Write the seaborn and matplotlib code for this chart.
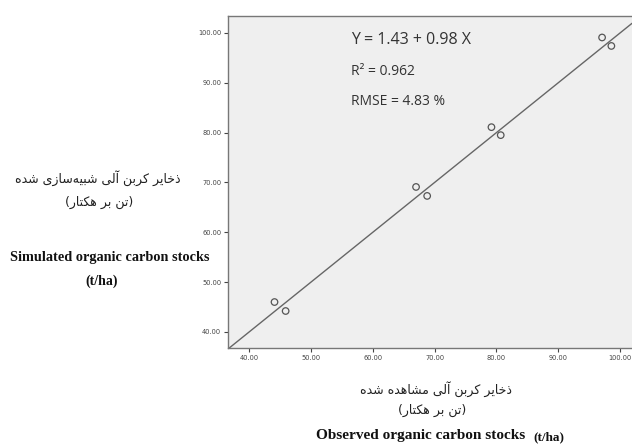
import numpy as np
import pandas as pd
import seaborn as sns
import matplotlib.pyplot as plt

# observed vs simulated organic carbon stocks (t/ha)
observed = [97.1, 98.6, 79.2, 80.7, 67.0, 68.8, 44.1, 45.9]
simulated = [99.1, 97.4, 81.1, 79.5, 69.1, 67.3, 46.0, 44.2]
ticks = [40, 50, 60, 70, 80, 90, 100]

fa_y1 = "ذخایر کربن آلی شبیه\u200cسازی شده"
fa_unit = "(تن بر هکتار)"
fa_x1 = "ذخایر کربن آلی مشاهده شده"

# minimal persian shaping: (isolated, final, initial, medial)
FORMS = {
    "ا": ("\uFE8D", "\uFE8E", None, None),
    "آ": ("\uFE81", "\uFE82", None, None),
    "ب": ("\uFE8F", "\uFE90", "\uFE91", "\uFE92"),
    "ت": ("\uFE95", "\uFE96", "\uFE97", "\uFE98"),
    "خ": ("\uFEA5", "\uFEA6", "\uFEA7", "\uFEA8"),
    "د": ("\uFEA9", "\uFEAA", None, None),
    "ذ": ("\uFEAB", "\uFEAC", None, None),
    "ر": ("\uFEAD", "\uFEAE", None, None),
    "ز": ("\uFEAF", "\uFEB0", None, None),
    "س": ("\uFEB1", "\uFEB2", "\uFEB3", "\uFEB4"),
    "ش": ("\uFEB5", "\uFEB6", "\uFEB7", "\uFEB8"),
    "ل": ("\uFEDD", "\uFEDE", "\uFEDF", "\uFEE0"),
    "م": ("\uFEE1", "\uFEE2", "\uFEE3", "\uFEE4"),
    "ن": ("\uFEE5", "\uFEE6", "\uFEE7", "\uFEE8"),
    "ه": ("\uFEE9", "\uFEEA", "\uFEEB", "\uFEEC"),
    "ی": ("\uFBFC", "\uFBFD", "\uFBFE", "\uFBFF"),
    "ک": ("\uFB8E", "\uFB8F", "\uFB90", "\uFB91"),
}


def shape(s):
    out = []
    for i, c in enumerate(s):
        if c not in FORMS:
            out.append(c)
            continue
        prev = s[i - 1] if i > 0 else ""
        nxt = s[i + 1] if i + 1 < len(s) else ""
        join_prev = prev in FORMS and FORMS[prev][2] is not None
        join_next = nxt in FORMS and FORMS[c][2] is not None
        iso, fin, ini, med = FORMS[c]
        if join_prev and join_next:
            out.append(med)
        elif join_prev:
            out.append(fin)
        elif join_next:
            out.append(ini)
        else:
            out.append(iso)
    txt = "".join(out).replace("\u200c", "")
    txt = txt[::-1]
    return txt.translate(str.maketrans("()", ")("))


df = pd.DataFrame({"observed": observed, "simulated": simulated})

sns.set_style("white")
fig = plt.figure(figsize=(6.32, 4.46), dpi=100)
ax = fig.add_axes([0.361, 0.22, 0.639, 0.744])
ax.set_facecolor("#efefef")

sns.scatterplot(data=df, x="observed", y="simulated", ax=ax, marker="o",
                s=22, facecolor="none", edgecolor="#555555", linewidth=0.9)
ax.axline((40, 40), slope=1.0, color="#666666", lw=1.0, zorder=1)

ax.set_xlim(36.6, 101.94)
ax.set_ylim(36.8, 103.4)
ax.set_xticks(ticks)
ax.set_yticks(ticks)
ax.set_xticklabels([f"{t:.2f}" for t in ticks])
ax.set_yticklabels([f"{t:.2f}" for t in ticks])
ax.tick_params(direction="out", length=3, width=0.8, color="#444444",
               labelsize=4.8, labelcolor="#444444", pad=2,
               bottom=True, left=True)
for side in ["left", "bottom", "top"]:
    ax.spines[side].set_color("#777777")
    ax.spines[side].set_linewidth(1.0)
ax.spines["right"].set_visible(False)
ax.set_xlabel("")
ax.set_ylabel("")

stat_font = ["Open Sans", "DejaVu Sans"]
ax.text(0.305, 0.928, "Y = 1.43 + 0.98 X", transform=ax.transAxes,
        fontsize=11.5, color="#333333", family=stat_font, va="center")
ax.text(0.305, 0.834, "R² = 0.962", transform=ax.transAxes,
        fontsize=10, color="#333333", family=stat_font, va="center")
ax.text(0.305, 0.744, "RMSE = 4.83 %", transform=ax.transAxes,
        fontsize=10, color="#333333", family=stat_font, va="center")

fa_font = ["DejaVu Sans"]
fig.text(98 / 632, 1 - 178 / 446, shape(fa_y1), ha="center", va="center",
         fontsize=9, family=fa_font, color="#222222")
fig.text(99 / 632, 1 - 202 / 446, shape(fa_unit), ha="center", va="center",
         fontsize=9, family=fa_font, color="#222222")
fig.text(110 / 632, 1 - 257 / 446, "Simulated organic carbon stocks",
         ha="center", va="center", fontsize=10.3, fontweight="bold",
         family="Liberation Serif", color="#111111")
fig.text(102 / 632, 1 - 281 / 446, "(t/ha)", ha="center", va="center",
         fontsize=10, fontweight="bold", family="Liberation Serif",
         color="#111111")

fig.text(436 / 632, 1 - 389 / 446, shape(fa_x1), ha="center", va="center",
         fontsize=9, family=fa_font, color="#222222")
fig.text(432 / 632, 1 - 410 / 446, shape(fa_unit), ha="center", va="center",
         fontsize=9, family=fa_font, color="#222222")
fig.text(316 / 632, 1 - 436 / 446, "Observed organic carbon stocks",
         ha="left", va="center", fontsize=11, fontweight="bold",
         family="Liberation Serif", color="#111111")
fig.text(533 / 632, 1 - 437 / 446, "(t/ha)", ha="left", va="center",
         fontsize=9.5, fontweight="bold", family="Liberation Serif",
         color="#111111")

fig.savefig("out.png", dpi=100)
